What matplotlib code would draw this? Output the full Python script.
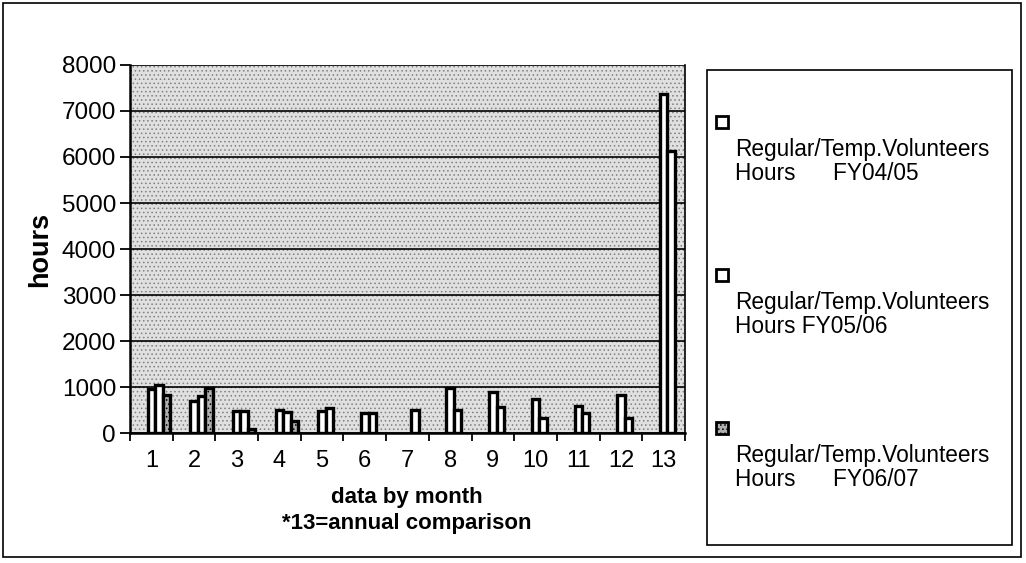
import numpy as np
import matplotlib.pyplot as plt
from matplotlib.patches import Rectangle

plt.rcParams['font.family'] = ['Liberation Sans', 'DejaVu Sans']
plt.rcParams['hatch.linewidth'] = 0.6

# values (hours per month, 13 = annual total)
months = list(range(1, 14))
fy0405 = [950, 700, 480, 500, 480, 430, 0, 975, 890, 735, 590, 825, 7375]
fy0506 = [1040, 800, 480, 460, 540, 430, 500, 500, 565, 330, 430, 325, 6140]
fy0607 = [825, 975, 90, 260, 0, 0, 0, 0, 0, 0, 0, 0, 0]
series_names = ['Regular/Temp.Volunteers\nHours      FY04/05',
                'Regular/Temp.Volunteers\nHours FY05/06',
                'Regular/Temp.Volunteers\nHours      FY06/07']

fig = plt.figure(figsize=(10.26, 5.63), dpi=100)
W, H = 1026, 563

ax = fig.add_axes([130 / W, (H - 433) / H, 555 / W, 368 / H])

# stippled plot area
bg = Rectangle((0, 0), 1, 1, transform=ax.transAxes, facecolor='#e0e0e0',
               edgecolor='#808080', hatch='....', lw=0, zorder=0)
ax.add_patch(bg)
ax.patch.set_visible(False)

x = np.array(months, dtype=float)
w = 0.175
styles = [dict(facecolor='white', hatch=None),
          dict(facecolor='white', hatch=None),
          dict(facecolor='#b0b0b0', hatch='....')]
for k, vals in enumerate([fy0405, fy0506, fy0607]):
    for xi, v in zip(x + k * w, vals):
        if v <= 0:
            continue
        ax.bar(xi, v, width=w, facecolor=styles[k]['facecolor'],
               hatch=styles[k]['hatch'], edgecolor='black', linewidth=2.4,
               zorder=3)

ax.set_ylim(0, 8000)
ax.set_xlim(0.5, 13.5)
ax.set_yticks(np.arange(0, 8001, 1000))
ax.yaxis.grid(True, color='black', lw=1.2, zorder=1)
ax.set_axisbelow(False)

ax.set_xticks(np.arange(0.5, 13.6, 1.0))
ax.set_xticklabels([])
ax.set_xticks(x, minor=True)
ax.set_xticklabels([str(m) for m in months], minor=True)
ax.tick_params(axis='x', which='major', length=6, width=1.3, direction='out')
ax.tick_params(axis='x', which='minor', length=0, pad=12, labelsize=17)
ax.tick_params(axis='y', length=7, width=1.3, direction='out', labelsize=17.5, pad=3)

for s in ['left', 'bottom']:
    ax.spines[s].set_linewidth(1.8)
ax.spines['top'].set_visible(False)
ax.spines['right'].set_linewidth(1.2)

ax.set_ylabel('hours', fontsize=19.5, fontweight='bold', labelpad=6)
fig.text(407 / W, 1 - 497 / H, 'data by month', ha='center', va='center',
         fontsize=16, fontweight='bold')
fig.text(407 / W, 1 - 523 / H, '*13=annual comparison', ha='center', va='center',
         fontsize=16, fontweight='bold')

# legend box drawn by hand (marker above two-line label)
fig.patches.append(Rectangle((707 / W, 1 - 545 / H), 305 / W, 475 / H,
                             transform=fig.transFigure, fill=False,
                             edgecolor='black', lw=1.2))
marker_y = [122, 275, 428]
for k, (my, name) in enumerate(zip(marker_y, series_names)):
    fig.patches.append(Rectangle((716 / W, 1 - (my + 6) / H), 12 / W, 12 / H,
                                 transform=fig.transFigure,
                                 facecolor=styles[k]['facecolor'],
                                 hatch=styles[k]['hatch'],
                                 edgecolor='black', lw=2))
    fig.text(735 / W, 1 - (my + 16) / H, name, ha='left', va='top',
             fontsize=16.3, linespacing=1.05)

# outer border of the chart
fig.patches.append(Rectangle((3 / W, 6 / H), 1018 / W, 554 / H,
                             transform=fig.transFigure, fill=False,
                             edgecolor='black', lw=1.2))

plt.savefig('out.png', dpi=100)
